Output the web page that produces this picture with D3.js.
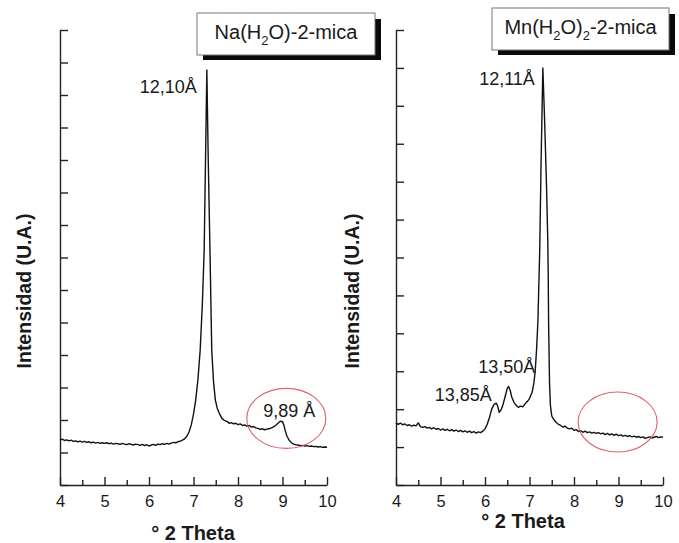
<!DOCTYPE html>
<html>
<head>
<meta charset="utf-8">
<script src="https://cdn.jsdelivr.net/npm/d3@7"></script>
<style>
  body { margin: 0; background: #fff; }
  svg { display: block; }
  text { font-family: Arial, "Liberation Sans", Helvetica, sans-serif; fill: #1a1a1a; }
</style>
</head>
<body>
<svg id="chart" width="679" height="543"></svg>
<script>
// X-ray diffraction patterns, intensity in arbitrary units vs. degrees 2-theta
const thetaMajorTicks = [4, 5, 6, 7, 8, 9, 10];
const thetaMinorTicks = [4.5, 5.5, 6.5, 7.5, 8.5, 9.5];

// Na(H2O)-2-mica pattern: [2theta, intensity]
const naPattern = [
  [4.00,138],[4.05,141],[4.10,137],[4.15,139],[4.20,136],[4.25,138],[4.30,134],[4.35,136],
  [4.40,133],[4.45,135],[4.50,132],[4.55,134],[4.60,131],[4.65,133],[4.70,130],[4.75,132],
  [4.80,129],[4.85,131],[4.90,128],[4.95,130],[5.00,128],[5.05,130],[5.10,127],[5.15,129],
  [5.20,126],[5.25,128],[5.30,127],[5.35,125],[5.40,128],[5.45,126],[5.50,124],[5.55,127],
  [5.60,125],[5.65,123],[5.70,126],[5.75,124],[5.80,122],[5.85,125],[5.90,121],[5.95,124],
  [6.00,120],[6.05,123],[6.10,125],[6.15,122],[6.20,126],[6.25,124],[6.30,127],[6.35,125],
  [6.40,128],[6.45,126],[6.50,129],[6.55,131],[6.60,130],[6.65,133],[6.70,135],[6.75,138],
  [6.80,142],[6.85,150],[6.90,163],[6.95,185],[7.00,218],[7.05,262],[7.10,325],[7.15,415],
  [7.20,560],[7.24,723],[7.27,1000],[7.30,1277],[7.33,1010],[7.37,723],[7.41,415],[7.45,318],
  [7.49,262],[7.53,238],[7.57,224],[7.60,215],[7.64,205],[7.68,200],[7.72,197],[7.76,195],
  [7.80,190],[7.85,192],[7.90,188],[7.95,190],[8.00,186],[8.05,188],[8.10,183],[8.15,185],
  [8.20,181],[8.25,183],[8.30,178],[8.35,180],[8.40,176],[8.45,174],[8.50,171],[8.55,173],
  [8.60,170],[8.65,172],[8.70,173],[8.75,176],[8.80,179],[8.85,184],[8.90,190],[8.95,196],
  [9.00,195],[9.03,185],[9.06,168],[9.10,150],[9.15,138],[9.20,130],[9.25,126],[9.30,124],
  [9.35,123],[9.40,121],[9.45,122],[9.50,120],[9.55,121],[9.60,119],[9.65,120],[9.70,118],
  [9.75,119],[9.80,117],[9.85,118],[9.90,116],[9.95,117],[10.00,116]
];

// Mn(H2O)2-2-mica pattern: [2theta, intensity]
const mnPattern = [
  [4.00,164],[4.05,160],[4.10,163],[4.15,159],[4.20,161],[4.25,157],[4.30,159],[4.35,155],
  [4.40,158],[4.45,156],[4.50,164],[4.55,154],[4.60,152],[4.65,154],[4.70,150],[4.75,152],
  [4.80,148],[4.85,151],[4.90,147],[4.95,149],[5.00,145],[5.05,148],[5.10,144],[5.15,147],
  [5.20,143],[5.25,146],[5.30,142],[5.35,145],[5.40,141],[5.45,144],[5.50,140],[5.55,143],
  [5.60,139],[5.65,142],[5.70,138],[5.75,141],[5.80,137],[5.85,140],[5.90,138],[5.95,142],
  [6.00,148],[6.05,160],[6.10,178],[6.15,200],[6.20,212],[6.25,216],[6.28,210],[6.32,192],
  [6.36,198],[6.40,210],[6.45,232],[6.50,255],[6.53,260],[6.57,248],[6.60,232],[6.65,218],
  [6.70,210],[6.75,205],[6.80,208],[6.85,206],[6.90,214],[6.95,220],[7.00,228],[7.06,245],
  [7.10,270],[7.13,303],[7.16,360],[7.19,435],[7.23,620],[7.26,850],[7.30,1100],[7.34,960],
  [7.38,800],[7.41,650],[7.42,560],[7.43,420],[7.45,270],[7.47,210],[7.50,182],[7.55,172],
  [7.60,165],[7.65,160],[7.70,157],[7.75,153],[7.80,155],[7.85,150],[7.90,148],[7.95,150],
  [8.00,144],[8.05,146],[8.10,141],[8.15,143],[8.20,139],[8.25,142],[8.30,138],[8.35,140],
  [8.40,137],[8.45,139],[8.50,136],[8.55,138],[8.60,135],[8.65,137],[8.70,133],[8.75,136],
  [8.80,132],[8.85,135],[8.90,131],[8.95,134],[9.00,130],[9.05,132],[9.10,129],[9.15,131],
  [9.20,128],[9.25,130],[9.30,127],[9.35,129],[9.40,126],[9.45,128],[9.50,125],[9.55,127],
  [9.60,123],[9.65,125],[9.70,127],[9.75,124],[9.80,126],[9.85,128],[9.90,125],[9.95,127],
  [10.00,126]
];

// Peak labels: anchored at the peak position, offset in pixels
const naPeakLabels = [
  { theta: 7.30, value: 1277, text: "12,10Å", dx: -10, dy: 23, anchor: "end" },
  { theta: 8.97, value: 196, text: "9,89 Å", dx: -18, dy: -4, anchor: "start" }
];
const mnPeakLabels = [
  { theta: 7.30, value: 1100, text: "12,11Å", dx: -8, dy: 17, anchor: "end" },
  { theta: 6.52, value: 260, text: "13,50Å", dx: -30, dy: -13, anchor: "start" },
  { theta: 6.22, value: 216, text: "13,85Å", dx: -3, dy: -2, anchor: "end" }
];

// Highlighted regions (centre in data units)
const naHighlight = [{ theta: 9.085, value: 205 }];
const mnHighlight = [{ theta: 8.98, value: 166 }];

const svg = d3.select("#chart");

function drawPanel(opt) {
  const x = d3.scaleLinear().domain([4, 10]).range([opt.left, opt.right]);
  const y = d3.scaleLinear().domain([0, opt.yMax]).range([485, 30]);
  const g = svg.append("g");

  // y axis with inward ticks, no labels
  const yTicks = d3.range(0, opt.yMax + 1, 100);
  const yAxis = g.append("g")
    .attr("transform", `translate(${opt.left},0)`)
    .call(d3.axisLeft(y).tickValues(yTicks).tickSize(-8).tickSizeOuter(0).tickFormat(""));
  yAxis.selectAll("path,line").attr("stroke", "#222").attr("stroke-width", 1.4);

  // x axis: major + minor inward ticks
  const xAxis = g.append("g")
    .attr("transform", "translate(0,485)")
    .call(d3.axisBottom(x).tickValues(thetaMajorTicks).tickSize(-8).tickSizeOuter(0)
      .tickPadding(10).tickFormat(d3.format("d")));
  xAxis.selectAll("path,line").attr("stroke", "#222").attr("stroke-width", 1.4);
  xAxis.selectAll("text").attr("font-size", 16.5).attr("fill", "#1a1a1a")
    .style("font-family", "Arial, 'Liberation Sans', sans-serif");
  const xMinor = g.append("g")
    .attr("transform", "translate(0,485)")
    .call(d3.axisBottom(x).tickValues(thetaMinorTicks).tickSize(-5).tickSizeOuter(0).tickFormat(""));
  xMinor.select("path").remove();
  xMinor.selectAll("line").attr("stroke", "#222").attr("stroke-width", 1.4);

  // pattern trace
  const line = d3.line().x(d => x(d[0])).y(d => y(d[1]));
  g.append("path")
    .datum(opt.data)
    .attr("d", line)
    .attr("fill", "none")
    .attr("stroke", "#111")
    .attr("stroke-width", 1.4)
    .attr("stroke-linejoin", "round");

  // highlight ellipses
  g.selectAll("ellipse.hl").data(opt.highlight).enter().append("ellipse")
    .attr("class", "hl")
    .attr("cx", d => x(d.theta)).attr("cy", d => y(d.value))
    .attr("rx", 39.5).attr("ry", 30)
    .attr("fill", "none").attr("stroke", "#e0606e").attr("stroke-width", 1.1);

  // peak labels
  g.selectAll("text.peak").data(opt.labels).enter().append("text")
    .attr("class", "peak")
    .attr("x", d => x(d.theta) + d.dx)
    .attr("y", d => y(d.value) + d.dy)
    .attr("text-anchor", d => d.anchor)
    .attr("font-size", 18)
    .text(d => d.text);

  // axis titles
  g.append("text")
    .attr("x", opt.xTitle[0]).attr("y", opt.xTitle[1])
    .attr("text-anchor", "middle")
    .attr("font-size", 20).attr("font-weight", "bold")
    .text("° 2 Theta");
  g.append("text")
    .attr("transform", `translate(${opt.yTitleX},291) rotate(-90)`)
    .attr("text-anchor", "middle")
    .attr("font-size", 19.5).attr("font-weight", "bold")
    .text("Intensidad (U.A.)");

  // sample title box with drop shadow
  const b = opt.box;
  g.append("rect").attr("x", b.x + 6).attr("y", b.y + 6).attr("width", b.w).attr("height", b.h - 1)
    .attr("fill", "#0a0a0a");
  g.append("rect").attr("x", b.x).attr("y", b.y).attr("width", b.w).attr("height", b.h)
    .attr("fill", "#fff").attr("stroke", "#777").attr("stroke-width", 1);
  const t = g.append("text")
    .attr("x", b.x + b.w / 2).attr("y", b.baseline)
    .attr("text-anchor", "middle").attr("font-size", 20);
  opt.title.forEach(part => {
    const s = t.append("tspan").text(part.s);
    if (part.sub) s.attr("font-size", 13).attr("dy", 6);
    else if (part.after) s.attr("dy", -6);
  });
}

drawPanel({
  left: 60, right: 327, yMax: 1400,
  data: naPattern, labels: naPeakLabels, highlight: naHighlight,
  xTitle: [193, 540], yTitleX: 31,
  box: { x: 197, y: 13, w: 178, h: 42, baseline: 39 },
  title: [{ s: "Na(H" }, { s: "2", sub: true }, { s: "O)-2-mica", after: true }]
});

drawPanel({
  left: 396, right: 663, yMax: 1200,
  data: mnPattern, labels: mnPeakLabels, highlight: mnHighlight,
  xTitle: [523, 528], yTitleX: 359,
  box: { x: 492, y: 8, w: 177, h: 42, baseline: 34 },
  title: [{ s: "Mn(H" }, { s: "2", sub: true }, { s: "O)", after: true }, { s: "2", sub: true }, { s: "-2-mica", after: true }]
});
</script>
</body>
</html>
